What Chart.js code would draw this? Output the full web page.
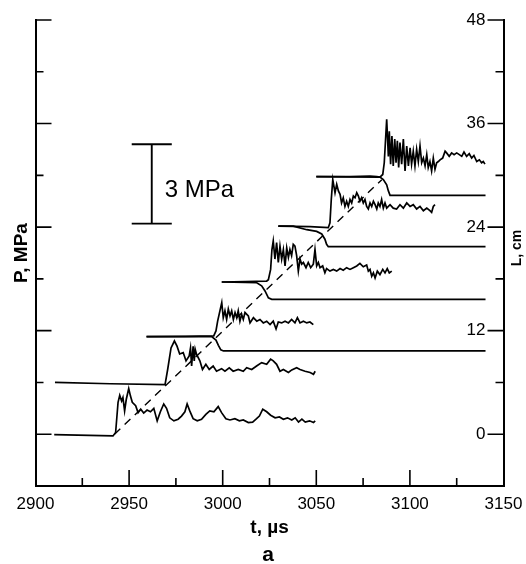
<!DOCTYPE html>
<html>
<head>
<meta charset="utf-8">
<script src="https://cdn.jsdelivr.net/npm/chart.js@4"></script>
<style>
  body { margin: 0; background: #fff; }
</style>
</head>
<body>
<canvas id="chart" width="526" height="564"></canvas>
<script>
// pressure traces, t in µs, value in L-axis units (each trace sits on its own baseline)
const p1T = [2910, 2941.4, 2942.8, 2944.1, 2945, 2946, 2946.7, 2947.6, 2948.5, 2949.8, 2950.7, 2951.7, 2953.5, 2954.8, 2956.2, 2957.8, 2959.6, 2961.4, 2963.2, 2965, 2966.7, 2968.5, 2970, 2971.7, 2973.9, 2976.2, 2978, 2979.8, 2981, 2982.4, 2984.2, 2986.4, 2988.7, 2991, 2993.1, 2995.3, 2997.6, 2999.4, 3001.7, 3003.9, 3006.5, 3008.9, 3011, 3013.7, 3016, 3017.8, 3019.6, 3021.4, 3023.5, 3025.6, 3028, 3030.3, 3032.4, 3034.6, 3036.9, 3038.7, 3040.5, 3042.3, 3044.1, 3046.4, 3048.5, 3049.4];
const p1V = [-0.05, -0.2, 0.2, 3.7, 4.5, 3.85, 4.25, 2.7, 4.05, 5.3, 4.45, 3.7, 3.3, 2.5, 2.9, 2.45, 2.8, 2.6, 3.0, 1.55, 2.6, 3.5, 3.0, 1.9, 1.55, 1.74, 2.1, 2.6, 3.5, 2.7, 1.8, 1.55, 1.74, 2.3, 2.7, 2.6, 3.2, 2.5, 1.8, 1.65, 1.8, 1.55, 1.65, 1.35, 1.4, 1.74, 2.1, 2.9, 2.6, 2.2, 1.9, 2.0, 1.74, 1.9, 1.65, 1.9, 1.4, 1.74, 1.4, 1.55, 1.35, 1.55];

const p2T = [2910.4, 2940, 2969.2, 2970.6, 2972.4, 2974.2, 2975.6, 2977, 2978.9, 2980.4, 2982.1, 2982.8, 2983.4, 2984.2, 2984.8, 2985.3, 2986, 2987.8, 2989.2, 2991, 2992.8, 2994.9, 2996.7, 2999.4, 3001.2, 3003.5, 3005.6, 3008.3, 3011, 3012.8, 3015.5, 3018.1, 3020.8, 3023.5, 3025.6, 3027, 3028.8, 3030.6, 3032.4, 3035.1, 3036.9, 3039.5, 3041.3, 3044, 3046.7, 3048.5, 3049.4];
const p2V = [6.0, 5.85, 5.75, 7.5, 10.0, 10.8, 10.2, 9.3, 9.46, 8.5, 9.08, 10.0, 7.9, 10.2, 8.5, 9.85, 9.27, 8.5, 7.5, 8.1, 7.5, 7.9, 7.3, 7.6, 7.3, 7.7, 7.3, 7.5, 7.3, 7.7, 7.5, 7.9, 8.3, 8.1, 8.7, 8.5, 8.1, 7.3, 7.5, 7.15, 7.45, 7.7, 7.5, 7.3, 7.15, 6.95, 7.3];

const p3T = [2959.3, 2980, 2995.2, 2996.4, 2997.3, 2999.5, 3000.3, 3001.2, 3002.1, 3003, 3003.9, 3004.8, 3005.7, 3006.6, 3007.5, 3008.3, 3009.2, 3010.1, 3011, 3011.9, 3013.7, 3014.6, 3016.4, 3018.2, 3019.9, 3021.7, 3023.5, 3025.3, 3027, 3028.5, 3029.7, 3031.5, 3033.3, 3035.1, 3036.8, 3038.6, 3039.9, 3041.3, 3043.1, 3044.9, 3046.6, 3048.4];
const p3V = [11.3, 11.35, 11.4, 11.97, 13.1, 15.25, 13.5, 14.3, 13.3, 14.5, 13.7, 14.3, 13.3, 14.1, 13.5, 14.3, 13.1, 13.9, 13.3, 14.1, 13.7, 12.9, 13.5, 13.1, 13.3, 12.9, 13.1, 12.7, 13.1, 12.2, 13.0, 12.9, 13.1, 12.9, 13.3, 12.9, 13.5, 12.9, 13.1, 12.9, 13.0, 12.7];

const p4T = [2999.5, 3012, 3023.5, 3024.4, 3025.6, 3026.3, 3027, 3027.9, 3028.8, 3029.7, 3030.6, 3031.5, 3032.4, 3033.3, 3034.2, 3035.1, 3035.9, 3036.8, 3037.7, 3038.6, 3039.5, 3040.4, 3041.3, 3042.2, 3043.1, 3044.5, 3045.7, 3047, 3048.4, 3049.3, 3050.2, 3051.1, 3052, 3053.4, 3054.6, 3055.5, 3057.3, 3059.1, 3060.9, 3062.7, 3064.4, 3066.2, 3068, 3069.8, 3071.6, 3073.3, 3075.1, 3076.9, 3077.8, 3078.7, 3079.6, 3080.5, 3081.4, 3082.6, 3084, 3085.5, 3086.7, 3087.9, 3089, 3090.3];
const p4V = [17.64, 17.7, 17.75, 17.9, 19.1, 21.4, 22.4, 20.3, 22.2, 19.9, 21.8, 20.3, 21.4, 19.5, 21.6, 20.5, 21.4, 20.7, 22.0, 21.8, 20.7, 18.9, 20.3, 19.7, 19.9, 19.3, 19.9, 19.3, 19.7, 21.4, 19.5, 19.9, 19.3, 19.5, 18.7, 19.2, 18.9, 19.1, 18.9, 19.2, 19.0, 19.3, 19.1, 19.3, 19.5, 19.8, 19.4, 19.6, 18.9, 19.1, 18.3, 18.7, 18.1, 18.9, 18.5, 19.1, 18.7, 19.2, 18.7, 18.9];

const p5T = [3029.7, 3046.6, 3056.4, 3057.3, 3058, 3058.8, 3060, 3060.9, 3061.8, 3062.7, 3063.5, 3064.4, 3065.3, 3066.2, 3067.1, 3068, 3068.9, 3069.8, 3070.7, 3071.6, 3072.5, 3073.3, 3074.2, 3075.1, 3076, 3076.9, 3077.8, 3078.7, 3079.6, 3080.5, 3081.4, 3082.3, 3083.1, 3084, 3084.9, 3085.8, 3086.7, 3087.6, 3089.4, 3091.1, 3092.9, 3094.7, 3096.5, 3098.3, 3100.1, 3101.8, 3103.6, 3105.4, 3107.2, 3109, 3110.7, 3111.6, 3112.5, 3113.4];
const p5V = [24.12, 24.05, 23.93, 24.5, 27.2, 29.5, 27.98, 28.95, 28.2, 27.8, 26.8, 27.4, 26.4, 27.0, 26.4, 27.2, 26.8, 27.6, 27.4, 27.98, 27.6, 27.0, 27.4, 26.8, 27.2, 26.4, 26.1, 26.8, 26.4, 27.0, 26.6, 26.1, 26.8, 26.4, 27.2, 26.2, 26.8, 26.2, 26.6, 26.2, 26.1, 26.6, 26.2, 26.8, 26.4, 26.6, 26.1, 26.4, 25.9, 26.2, 25.9, 25.7, 26.4, 26.6];

const p6T = [3050, 3068, 3078.7, 3082.3, 3084, 3085.5, 3086.3, 3087.1, 3087.6, 3088.5, 3089, 3089.7, 3090.4, 3091.1, 3091.9, 3092.6, 3093.3, 3094, 3094.7, 3095.6, 3096.5, 3097.4, 3098.3, 3099.2, 3100.1, 3100.9, 3101.8, 3102.7, 3103.6, 3104.5, 3105.4, 3106.3, 3107.2, 3108.1, 3109, 3109.8, 3110.7, 3111.6, 3112.5, 3113.4, 3114.3, 3115.2, 3116.1, 3117.5, 3118.8, 3119.6, 3121, 3122.3, 3123.6, 3125, 3126.4, 3127.7, 3128.9, 3130.3, 3131.7, 3133, 3134.2, 3135.7, 3137.1, 3138.3, 3139.2, 3140.1];
const p6V = [29.85, 29.84, 29.9, 29.84, 29.8, 30.1, 31.46, 34.55, 36.5, 32.2, 35.1, 31.3, 34.55, 31.1, 34.2, 31.46, 34.0, 30.9, 33.8, 31.3, 34.2, 30.5, 33.4, 31.1, 33.2, 31.3, 32.8, 31.1, 33.0, 31.6, 33.4, 31.46, 32.0, 31.1, 32.4, 30.9, 31.6, 30.5, 32.0, 30.7, 31.46, 31.6, 31.8, 32.0, 32.8, 32.6, 32.2, 32.6, 32.4, 32.6, 32.4, 32.2, 32.7, 32.2, 32.5, 32.0, 32.3, 31.6, 31.8, 31.46, 31.6, 31.3];

// flame front position L (cm) steps
const s1T = [2959.3, 2994.1, 2996.4, 2997.7, 2999, 3000.4, 3140.4];
const s1V = [11.3, 11.3, 10.9, 10.3, 9.77, 9.65, 9.65];
const s2T = [2999.5, 3018.2, 3020.8, 3022.6, 3024.4, 3026.2, 3140.4];
const s2V = [17.64, 17.55, 17.2, 16.6, 15.8, 15.63, 15.63];
const s3T = [3029.7, 3037.7, 3044.9, 3050.2, 3052.9, 3054.6, 3055.5, 3056.4, 3140.4];
const s3V = [24.12, 24.12, 23.7, 23.5, 23.2, 22.6, 22.0, 21.73, 21.73];
const s4T = [3050, 3084, 3085.8, 3087.6, 3088.5, 3089.4, 3140.4];
const s4V = [29.85, 29.8, 29.5, 28.9, 28.2, 27.68, 27.68];

// dashed front trajectory
const dashT = [2942.2, 3085];
const dashV = [0, 29.5];

// 3 MPa scale bar (in L-axis units)
const barT = [2951.4, 2962.1, 2972.8];
const barV = [24.4, 33.6];

const FONT = "'Liberation Sans', Arial, sans-serif";

function trace(t, v, extra) {
    return Object.assign({
        data: t.map((x, i) => ({ x: x, y: v[i] })),
        borderColor: '#000',
        borderWidth: 1.7,
        pointRadius: 0,
        fill: false,
        tension: 0
    }, extra || {});
}

// ticks pointing inwards, axis titles and labels that Chart.js can't place itself
const frameTicks = {
    id: 'frameTicks',
    afterDraw(chart) {
        const { ctx, chartArea: a, scales: { x, y } } = chart;
        ctx.save();
        ctx.strokeStyle = '#000';
        ctx.lineWidth = 1.6;
        ctx.beginPath();
        for (let v = 0; v <= 48; v += 6) {
            const py = y.getPixelForValue(v);
            const len = v % 12 === 0 ? 16 : 8;
            ctx.moveTo(a.left, py); ctx.lineTo(a.left + len, py);
            ctx.moveTo(a.right, py); ctx.lineTo(a.right - len, py);
        }
        for (let t = 2925; t < 3150; t += 25) {
            const px = x.getPixelForValue(t);
            const len = t % 50 === 0 ? 16 : 8;
            ctx.moveTo(px, a.bottom); ctx.lineTo(px, a.bottom - len);
        }
        ctx.stroke();

        ctx.fillStyle = '#000';
        // right axis title, reads upwards
        ctx.save();
        ctx.translate(517, 248);
        ctx.rotate(-Math.PI / 2);
        ctx.font = 'bold 14px ' + FONT;
        ctx.textAlign = 'center';
        ctx.textBaseline = 'middle';
        ctx.fillText('L, cm', 0, 0);
        ctx.restore();

        // scale bar label
        ctx.font = '24px ' + FONT;
        ctx.textAlign = 'left';
        ctx.textBaseline = 'alphabetic';
        ctx.fillText('3 MPa', x.getPixelForValue(barT[1]) + 13, y.getPixelForValue((barV[0] + barV[1]) / 2) + 13);

        // panel letter
        ctx.font = 'bold 21px ' + FONT;
        ctx.textAlign = 'center';
        ctx.textBaseline = 'middle';
        ctx.fillText('a', 268, 555);
        ctx.restore();
    }
};

const chart = new Chart(document.getElementById('chart'), {
    type: 'line',
    data: {
        datasets: [
            trace(p1T, p1V), trace(p2T, p2V), trace(p3T, p3V),
            trace(p4T, p4V), trace(p5T, p5V), trace(p6T, p6V),
            trace(s1T, s1V), trace(s2T, s2V), trace(s3T, s3V), trace(s4T, s4V),
            trace(dashT, dashV, { borderDash: [8, 6], borderWidth: 1.4 }),
            // scale bar: top cap, stem, bottom cap
            trace([barT[0], barT[2]], [barV[1], barV[1]], { borderWidth: 1.9 }),
            trace([barT[1], barT[1]], [barV[1], barV[0]], { borderWidth: 1.9 }),
            trace([barT[0], barT[2]], [barV[0], barV[0]], { borderWidth: 1.9 })
        ]
    },
    options: {
        responsive: false,
        animation: false,
        devicePixelRatio: 1,
        layout: { padding: { top: 20, left: 0, right: 0, bottom: 0 } },
        plugins: { legend: { display: false }, tooltip: { enabled: false } },
        scales: {
            x: {
                type: 'linear', position: 'bottom', min: 2900, max: 3150,
                grid: { display: false, drawTicks: false },
                border: { display: true, color: '#000', width: 2 },
                ticks: { stepSize: 50, padding: 8, color: '#000', font: { family: FONT, size: 17 },
                         callback: v => String(v) },
                title: { display: true, text: 't, µs', color: '#000',
                         font: { family: FONT, size: 19, weight: 'bold' }, padding: { top: 0, bottom: 25 } },
                afterFit: s => { s.height = 78; s.paddingLeft = 0; s.paddingRight = 0; }
            },
            y: {
                type: 'linear', position: 'left', min: -6, max: 48,
                grid: { display: false, drawTicks: false },
                border: { display: true, color: '#000', width: 2 },
                ticks: { display: false },
                title: { display: true, text: 'P, MPa', color: '#000',
                         font: { family: FONT, size: 19, weight: 'bold' }, padding: { top: 10, bottom: 0 } },
                afterFit: s => { s.width = 35.5; }
            },
            y2: {
                type: 'linear', position: 'right', min: -6, max: 48,
                grid: { display: false, drawTicks: false },
                border: { display: true, color: '#000', width: 2 },
                ticks: { stepSize: 12, includeBounds: false, mirror: true, padding: -18,
                         color: '#000', font: { family: FONT, size: 17 }, callback: v => String(v) },
                afterFit: s => { s.width = 22.5; }
            }
        }
    },
    plugins: [frameTicks]
});
</script>
</body>
</html>
